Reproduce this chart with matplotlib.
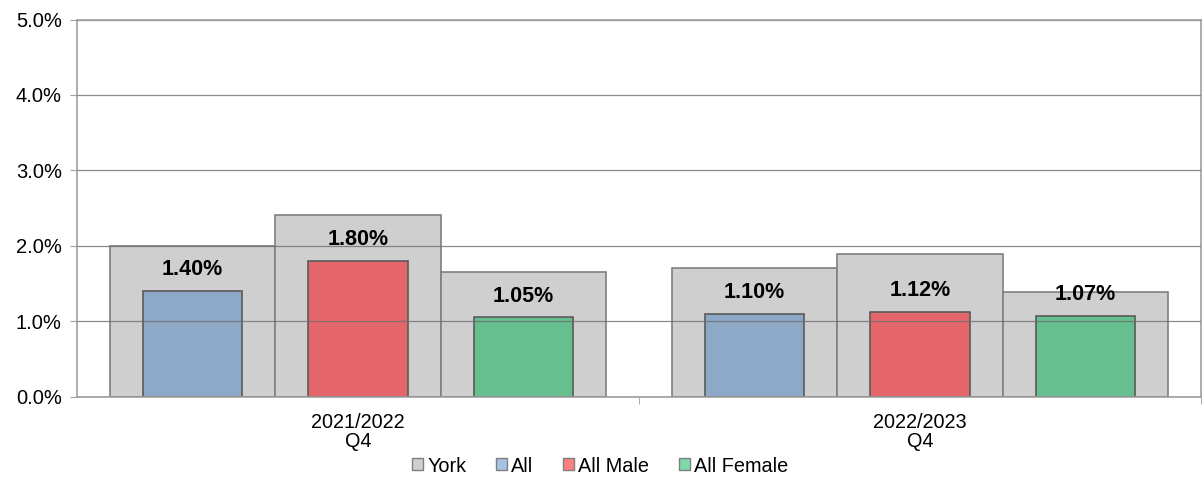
import numpy as np
import matplotlib
matplotlib.use('Agg')
import matplotlib.pyplot as plt
from matplotlib.patches import Patch

plt.rcParams['font.family'] = ['Liberation Sans', 'DejaVu Sans']

categories = ['2021/2022\nQ4', '2022/2023\nQ4']
series = ['All', 'All Male', 'All Female']
york = [[2.00, 2.41, 1.65], [1.70, 1.89, 1.38]]
values = [[1.40, 1.80, 1.05], [1.10, 1.12, 1.07]]
bar_colors = ['#8EA8C7', '#E5666A', '#66BF8E']
legend_colors = ['#A6C1E3', '#FF8080', '#80D9A8']
york_color = '#CFCFCF'

fig = plt.figure(figsize=(12.02, 4.8), dpi=100)
ax = fig.add_axes([77 / 1202, 1 - 396.5 / 480, 1124 / 1202, 377 / 480])

group_w = 0.883
york_w = group_w / 3
col_w = york_w * 0.6
x = np.arange(len(categories))

for i in range(len(categories)):
    for j in range(len(series)):
        xc = x[i] - group_w / 2 + york_w * (j + 0.5)
        ax.bar(xc, york[i][j], width=york_w, color=york_color, edgecolor='#7F7F7F',
               linewidth=1.2, zorder=1)
        ax.bar(xc, values[i][j], width=col_w, color=bar_colors[j], edgecolor='#5A5A5A',
               linewidth=1.2, zorder=2)
        ax.text(xc, values[i][j] + 0.28, f'{values[i][j]:.2f}%', ha='center', va='center',
                fontsize=15.5, fontweight='bold', zorder=4)

ax.set_xlim(-0.5, len(categories) - 0.5)
ax.set_ylim(0, 5)
ax.set_yticks(np.arange(0, 5.01, 1))
ax.set_yticklabels([f'{v:.1f}%' for v in np.arange(0, 5.01, 1)], fontsize=14.5)
ax.yaxis.grid(True, color='#6E6E6E', linewidth=0.9, alpha=0.8, zorder=3)
ax.set_axisbelow(False)
ax.tick_params(axis='y', length=5, color='#A0A0A0', pad=6)

ax.set_xticks(x)
ax.set_xticklabels(categories, fontsize=14.3, linespacing=1.0)
ax.set_xticks([0.5, 1.5], minor=True)
ax.tick_params(axis='x', which='major', length=0, pad=12)
ax.tick_params(axis='x', which='minor', length=5, color='#A0A0A0')

for s in ax.spines.values():
    s.set_color('#A0A0A0')
    s.set_linewidth(1.2)
ax.spines['top'].set_zorder(5)

handles = [Patch(facecolor=york_color, edgecolor='#7F7F7F', label='York')]
handles += [Patch(facecolor=c, edgecolor='#7F7F7F', label=s) for c, s in zip(legend_colors, series)]
fig.legend(handles=handles, loc='center', bbox_to_anchor=(600 / 1202, 1 - 466 / 480), ncol=4,
           frameon=False, fontsize=14.3, handlelength=0.55, handleheight=0.55, handletextpad=0.2,
           columnspacing=1.5)

fig.savefig('out.png', dpi=100)
